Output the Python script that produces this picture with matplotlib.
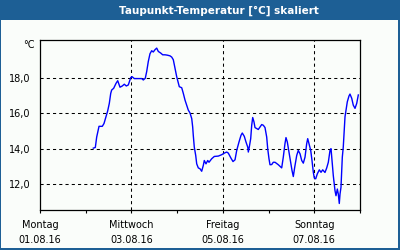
import matplotlib
matplotlib.use("Agg")
import matplotlib.pyplot as plt
from matplotlib.patches import Rectangle

# ---- data (time in days since Montag 01.08.16 00:00, dew point in °C) ----
days = [1.166, 1.210, 1.240, 1.291, 1.328, 1.363, 1.400, 1.444, 1.481, 1.516,
        1.547, 1.568, 1.612, 1.663, 1.700, 1.750, 1.800, 1.844, 1.888, 1.932,
        1.984, 2.012, 2.063, 2.115, 2.166, 2.225, 2.260, 2.303, 2.334, 2.369,
        2.406, 2.443, 2.478, 2.516, 2.553, 2.588, 2.640, 2.684, 2.734, 2.785,
        2.844, 2.881, 2.916, 2.953, 2.990, 3.025, 3.047, 3.100, 3.135, 3.172,
        3.209, 3.244, 3.281, 3.319, 3.340, 3.353, 3.375, 3.406, 3.428, 3.463,
        3.500, 3.537, 3.572, 3.594, 3.631, 3.669, 3.697, 3.756, 3.813, 3.900,
        3.975, 4.032, 4.084, 4.119, 4.178, 4.222, 4.266, 4.303, 4.353, 4.397,
        4.425, 4.469, 4.506, 4.544, 4.557, 4.578, 4.609, 4.631, 4.653, 4.681,
        4.703, 4.741, 4.775, 4.813, 4.850, 4.885, 4.922, 4.959, 4.981, 5.009,
        5.031, 5.069, 5.103, 5.141, 5.213, 5.287, 5.322, 5.359, 5.381, 5.410,
        5.447, 5.484, 5.513, 5.541, 5.572, 5.616, 5.650, 5.688, 5.725, 5.760,
        5.797, 5.834, 5.856, 5.884, 5.922, 5.950, 5.979, 6.000, 6.031, 6.066,
        6.110, 6.147, 6.184, 6.234, 6.272, 6.307, 6.344, 6.366, 6.381, 6.416,
        6.453, 6.475, 6.504, 6.525, 6.547, 6.563, 6.584, 6.600, 6.613, 6.634,
        6.656, 6.672, 6.694, 6.722, 6.759, 6.781, 6.819, 6.853, 6.891, 6.928,
        6.963]
dewpoint = [14.03, 14.07, 14.66, 15.27, 15.27, 15.27, 15.43, 15.81, 16.15, 16.57,
            17.14, 17.33, 17.43, 17.71, 17.86, 17.49, 17.56, 17.66, 17.56, 17.62,
            18.03, 18.09, 17.98, 17.98, 17.98, 17.98, 17.90, 18.00, 18.38, 18.95,
            19.39, 19.56, 19.49, 19.62, 19.71, 19.52, 19.43, 19.33, 19.33, 19.31,
            19.27, 19.20, 19.05, 18.57, 18.09, 17.75, 17.52, 17.46, 17.14, 16.76,
            16.47, 16.19, 16.03, 15.71, 15.23, 14.76, 14.09, 13.62, 13.14, 12.91,
            12.86, 12.72, 13.05, 13.33, 13.14, 13.33, 13.23, 13.43, 13.56, 13.58,
            13.66, 13.75, 13.81, 13.75, 13.46, 13.27, 13.37, 13.90, 14.38, 14.76,
            14.89, 14.70, 14.38, 14.09, 13.81, 14.09, 14.57, 15.33, 15.77, 15.52,
            15.20, 15.14, 15.09, 15.23, 15.37, 15.33, 15.20, 14.66, 14.00, 13.43,
            13.09, 13.10, 13.23, 13.23, 13.09, 12.91, 13.52, 14.29, 14.63, 14.38,
            13.81, 13.23, 12.76, 12.42, 12.95, 13.62, 13.90, 13.71, 13.33, 13.18,
            13.52, 14.29, 14.57, 14.29, 13.90, 13.33, 12.66, 12.34, 12.29, 12.57,
            12.80, 12.66, 12.80, 12.65, 12.91, 13.23, 13.90, 14.00, 13.52, 12.47,
            11.62, 11.33, 11.71, 11.43, 10.89, 11.43, 11.81, 12.76, 13.52, 14.09,
            15.05, 15.81, 16.19, 16.66, 16.99, 17.10, 16.86, 16.47, 16.29, 16.57,
            17.05]

y_ticks = [12.0, 14.0, 16.0, 18.0]
y_tick_labels = ["12,0", "14,0", "16,0", "18,0"]
x_label_days = [0, 2, 4, 6]
x_tick_labels = ["Montag\n01.08.16", "Mittwoch\n03.08.16",
                 "Freitag\n05.08.16", "Sonntag\n07.08.16"]
title = "Taupunkt-Temperatur [°C] skaliert"
unit = "°C"

BLUE_FRAME = "#1d5f95"
PANEL = "#fafdfa"

fig = plt.figure(figsize=(4, 2.5), dpi=100, facecolor=BLUE_FRAME)
# inner panel
fig.patches.append(Rectangle((1 / 400, 2 / 250), 397 / 400, 228 / 250,
                             transform=fig.transFigure, facecolor=PANEL,
                             edgecolor="none", zorder=-5))
fig.text(219 / 400, 1 - 10.5 / 250, title, color="white", fontsize=7.5,
         fontweight="bold", ha="center", va="center", family="DejaVu Sans")

ax = fig.add_axes([0.1, 0.16, 0.8, 0.68])
ax.set_zorder(2)
ax.set_facecolor(PANEL)
ax.plot(days, dewpoint, color="#0000ff", lw=1.0, zorder=3)

ax.set_xlim(0, 7)
ax.set_ylim(10.52, 20.17)

ax.set_yticks(y_ticks)
ax.set_yticklabels(y_tick_labels)
ax.set_xticks(x_label_days)
ax.set_xticklabels(x_tick_labels, linespacing=1.6)
ax.set_xticks([1, 3, 5, 7], minor=True)

ax.tick_params(axis="y", length=0, pad=7, labelsize=7)
ax.tick_params(axis="x", which="both", length=2.5, width=0.8, direction="out",
               pad=5, labelsize=7, color="black")

for s in ax.spines.values():
    s.set_color("black")
    s.set_linewidth(0.9)

for yv in y_ticks:
    ax.axhline(yv, color="black", lw=0.75, ls=(0, (3, 3)), zorder=1)
for xv in [2, 4, 6]:
    ax.axvline(xv, color="black", lw=0.75, ls=(0, (3, 3)), zorder=1)

fig.text(35 / 400, 1 - 45 / 250, unit, fontsize=7, ha="right", va="center",
         zorder=3)

fig.savefig("out.png", dpi=100, facecolor=BLUE_FRAME)
